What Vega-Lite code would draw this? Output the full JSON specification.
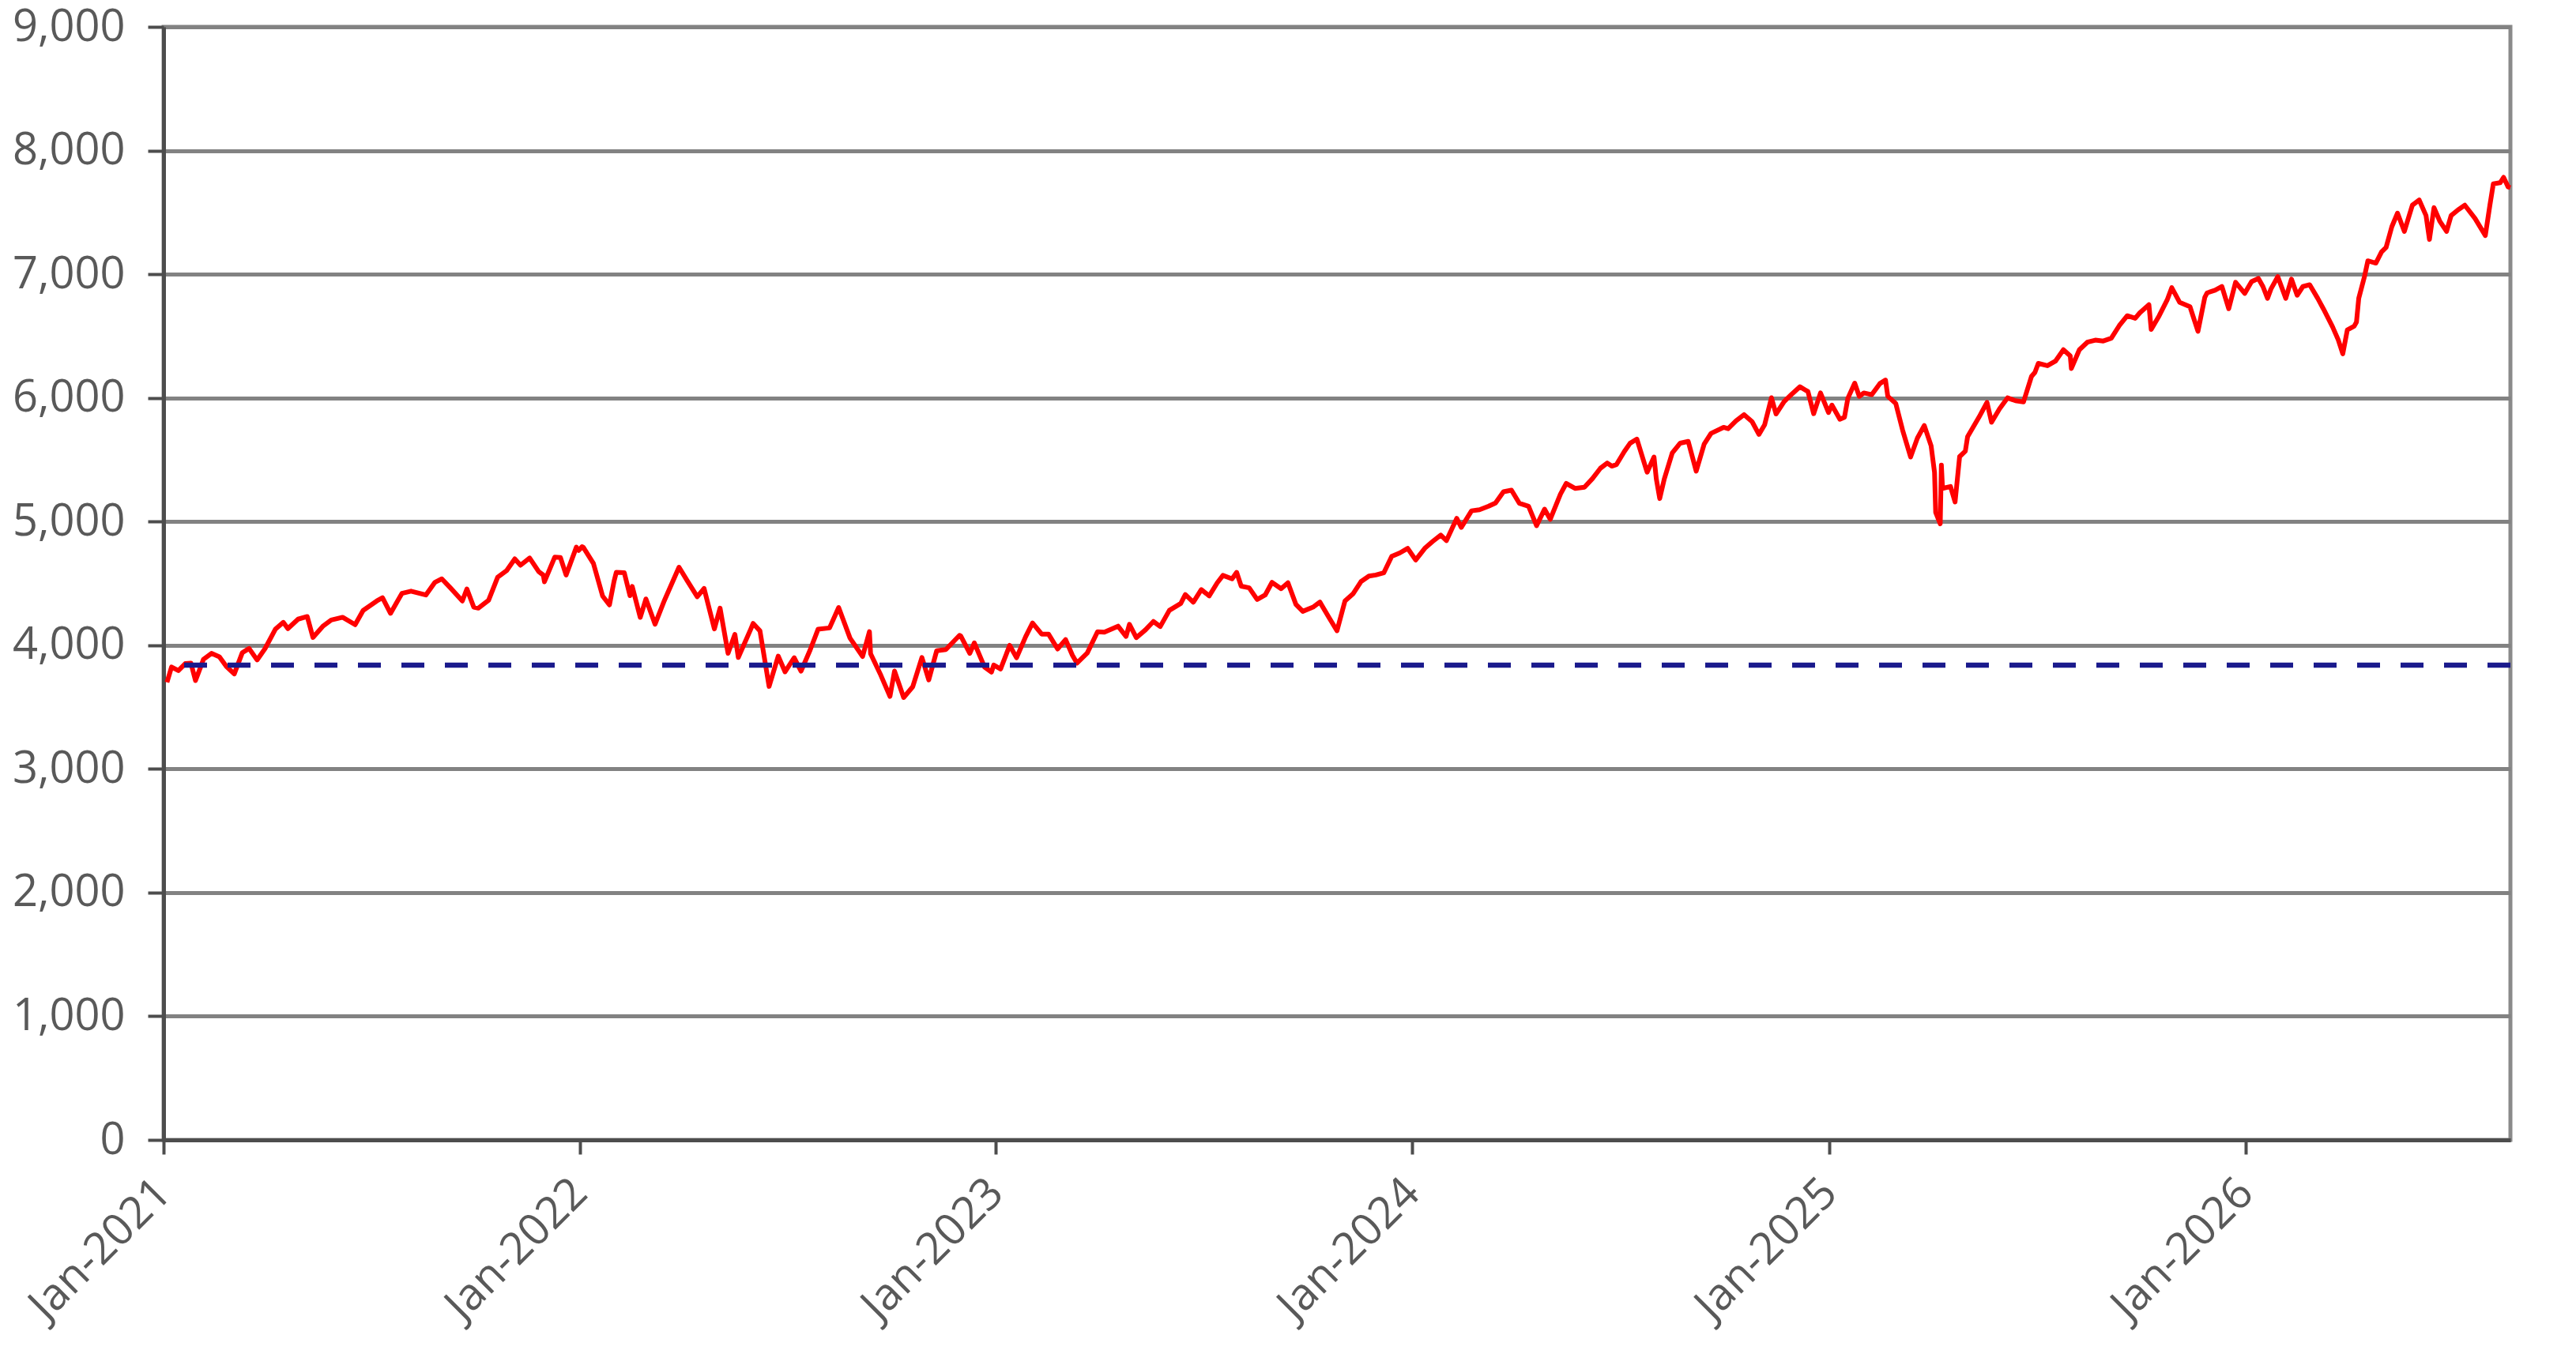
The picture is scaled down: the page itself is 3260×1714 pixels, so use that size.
{
  "$schema": "https://vega.github.io/schema/vega-lite/v6.json",
  "width": 2970,
  "height": 1409,
  "autosize": "none",
  "padding": {"left": 207, "top": 34, "right": 83, "bottom": 271},
  "background": "#ffffff",
  "config": {
    "view": {"stroke": "#8a8a8a", "strokeWidth": 5},
    "axis": {
      "labelFont": "Open Sans",
      "labelFontSize": 56,
      "labelColor": "#595959",
      "labelLimit": 0,
      "domainColor": "#4d4d4d",
      "domainWidth": 5,
      "tickColor": "#4d4d4d",
      "tickWidth": 4,
      "gridColor": "#828282",
      "gridWidth": 5
    }
  },
  "datasets": {
    "index": [
      {"date": "2021-01-04", "value": 3700}, {"date": "2021-01-08", "value": 3824}, {"date": "2021-01-14", "value": 3795},
      {"date": "2021-01-20", "value": 3851}, {"date": "2021-01-25", "value": 3855}, {"date": "2021-01-29", "value": 3714},
      {"date": "2021-02-05", "value": 3886}, {"date": "2021-02-12", "value": 3934}, {"date": "2021-02-19", "value": 3906},
      {"date": "2021-02-25", "value": 3829}, {"date": "2021-03-04", "value": 3768}, {"date": "2021-03-11", "value": 3939},
      {"date": "2021-03-17", "value": 3974}, {"date": "2021-03-24", "value": 3881}, {"date": "2021-03-31", "value": 3973},
      {"date": "2021-04-09", "value": 4129}, {"date": "2021-04-16", "value": 4185}, {"date": "2021-04-20", "value": 4134},
      {"date": "2021-04-29", "value": 4211}, {"date": "2021-05-07", "value": 4232}, {"date": "2021-05-12", "value": 4063},
      {"date": "2021-05-21", "value": 4156}, {"date": "2021-05-28", "value": 4204}, {"date": "2021-06-07", "value": 4226},
      {"date": "2021-06-18", "value": 4166}, {"date": "2021-06-25", "value": 4281}, {"date": "2021-07-07", "value": 4358},
      {"date": "2021-07-12", "value": 4384}, {"date": "2021-07-19", "value": 4258}, {"date": "2021-07-29", "value": 4419},
      {"date": "2021-08-06", "value": 4437}, {"date": "2021-08-19", "value": 4406}, {"date": "2021-08-27", "value": 4509},
      {"date": "2021-09-02", "value": 4537}, {"date": "2021-09-10", "value": 4459}, {"date": "2021-09-20", "value": 4358},
      {"date": "2021-09-24", "value": 4455}, {"date": "2021-09-30", "value": 4308}, {"date": "2021-10-04", "value": 4300},
      {"date": "2021-10-13", "value": 4363}, {"date": "2021-10-21", "value": 4550}, {"date": "2021-10-29", "value": 4605},
      {"date": "2021-11-05", "value": 4698}, {"date": "2021-11-10", "value": 4647}, {"date": "2021-11-18", "value": 4705},
      {"date": "2021-11-26", "value": 4595}, {"date": "2021-11-30", "value": 4567}, {"date": "2021-12-01", "value": 4513},
      {"date": "2021-12-10", "value": 4712}, {"date": "2021-12-15", "value": 4709}, {"date": "2021-12-20", "value": 4568},
      {"date": "2021-12-29", "value": 4793}, {"date": "2021-12-31", "value": 4766},
      {"date": "2022-01-03", "value": 4797}, {"date": "2022-01-04", "value": 4793}, {"date": "2022-01-13", "value": 4660},
      {"date": "2022-01-21", "value": 4398}, {"date": "2022-01-27", "value": 4326}, {"date": "2022-01-31", "value": 4516},
      {"date": "2022-02-02", "value": 4589}, {"date": "2022-02-09", "value": 4587}, {"date": "2022-02-14", "value": 4401},
      {"date": "2022-02-16", "value": 4475}, {"date": "2022-02-23", "value": 4225}, {"date": "2022-02-28", "value": 4374},
      {"date": "2022-03-08", "value": 4170}, {"date": "2022-03-16", "value": 4358}, {"date": "2022-03-29", "value": 4631},
      {"date": "2022-04-05", "value": 4525}, {"date": "2022-04-14", "value": 4392}, {"date": "2022-04-20", "value": 4459},
      {"date": "2022-04-29", "value": 4132}, {"date": "2022-05-04", "value": 4300}, {"date": "2022-05-11", "value": 3935},
      {"date": "2022-05-17", "value": 4088}, {"date": "2022-05-20", "value": 3901}, {"date": "2022-05-31", "value": 4132},
      {"date": "2022-06-02", "value": 4176}, {"date": "2022-06-08", "value": 4116}, {"date": "2022-06-16", "value": 3667},
      {"date": "2022-06-24", "value": 3912}, {"date": "2022-06-30", "value": 3785}, {"date": "2022-07-08", "value": 3899},
      {"date": "2022-07-14", "value": 3790}, {"date": "2022-07-22", "value": 3962}, {"date": "2022-07-29", "value": 4130},
      {"date": "2022-08-08", "value": 4140}, {"date": "2022-08-16", "value": 4305}, {"date": "2022-08-26", "value": 4057},
      {"date": "2022-09-06", "value": 3909}, {"date": "2022-09-12", "value": 4110}, {"date": "2022-09-13", "value": 3932},
      {"date": "2022-09-22", "value": 3757}, {"date": "2022-09-30", "value": 3586}, {"date": "2022-10-04", "value": 3791},
      {"date": "2022-10-12", "value": 3577}, {"date": "2022-10-20", "value": 3665}, {"date": "2022-10-28", "value": 3901},
      {"date": "2022-11-03", "value": 3720}, {"date": "2022-11-10", "value": 3956}, {"date": "2022-11-18", "value": 3965},
      {"date": "2022-11-30", "value": 4080}, {"date": "2022-12-01", "value": 4076}, {"date": "2022-12-09", "value": 3934},
      {"date": "2022-12-13", "value": 4019}, {"date": "2022-12-22", "value": 3822}, {"date": "2022-12-28", "value": 3783},
      {"date": "2022-12-30", "value": 3840},
      {"date": "2023-01-05", "value": 3808}, {"date": "2023-01-13", "value": 3999}, {"date": "2023-01-19", "value": 3899},
      {"date": "2023-01-27", "value": 4070}, {"date": "2023-02-02", "value": 4180}, {"date": "2023-02-10", "value": 4090},
      {"date": "2023-02-16", "value": 4090}, {"date": "2023-02-24", "value": 3970}, {"date": "2023-03-03", "value": 4046},
      {"date": "2023-03-09", "value": 3919}, {"date": "2023-03-13", "value": 3855}, {"date": "2023-03-22", "value": 3937},
      {"date": "2023-03-31", "value": 4109}, {"date": "2023-04-06", "value": 4105}, {"date": "2023-04-18", "value": 4154},
      {"date": "2023-04-25", "value": 4071}, {"date": "2023-04-28", "value": 4169}, {"date": "2023-05-04", "value": 4061},
      {"date": "2023-05-12", "value": 4124}, {"date": "2023-05-19", "value": 4192}, {"date": "2023-05-25", "value": 4151},
      {"date": "2023-06-02", "value": 4282}, {"date": "2023-06-12", "value": 4338}, {"date": "2023-06-16", "value": 4410},
      {"date": "2023-06-23", "value": 4348}, {"date": "2023-06-30", "value": 4450}, {"date": "2023-07-07", "value": 4399},
      {"date": "2023-07-14", "value": 4505}, {"date": "2023-07-19", "value": 4565}, {"date": "2023-07-27", "value": 4537},
      {"date": "2023-07-31", "value": 4589}, {"date": "2023-08-04", "value": 4478}, {"date": "2023-08-11", "value": 4464},
      {"date": "2023-08-18", "value": 4370}, {"date": "2023-08-25", "value": 4406}, {"date": "2023-08-31", "value": 4508},
      {"date": "2023-09-08", "value": 4457}, {"date": "2023-09-14", "value": 4505}, {"date": "2023-09-21", "value": 4330},
      {"date": "2023-09-27", "value": 4274}, {"date": "2023-10-06", "value": 4308}, {"date": "2023-10-12", "value": 4349},
      {"date": "2023-10-20", "value": 4224}, {"date": "2023-10-27", "value": 4117}, {"date": "2023-11-03", "value": 4358},
      {"date": "2023-11-10", "value": 4415}, {"date": "2023-11-17", "value": 4514}, {"date": "2023-11-24", "value": 4559},
      {"date": "2023-11-30", "value": 4568}, {"date": "2023-12-07", "value": 4585}, {"date": "2023-12-14", "value": 4719},
      {"date": "2023-12-21", "value": 4746}, {"date": "2023-12-28", "value": 4783}, {"date": "2023-12-29", "value": 4770},
      {"date": "2024-01-04", "value": 4689}, {"date": "2024-01-12", "value": 4784}, {"date": "2024-01-19", "value": 4840},
      {"date": "2024-01-26", "value": 4891}, {"date": "2024-01-31", "value": 4846}, {"date": "2024-02-09", "value": 5026},
      {"date": "2024-02-13", "value": 4953}, {"date": "2024-02-22", "value": 5087}, {"date": "2024-02-29", "value": 5096},
      {"date": "2024-03-08", "value": 5124}, {"date": "2024-03-14", "value": 5150}, {"date": "2024-03-21", "value": 5241},
      {"date": "2024-03-28", "value": 5254}, {"date": "2024-04-04", "value": 5147}, {"date": "2024-04-12", "value": 5123},
      {"date": "2024-04-19", "value": 4967}, {"date": "2024-04-26", "value": 5100}, {"date": "2024-05-01", "value": 5018},
      {"date": "2024-05-10", "value": 5223}, {"date": "2024-05-15", "value": 5308}, {"date": "2024-05-23", "value": 5268},
      {"date": "2024-05-31", "value": 5278}, {"date": "2024-06-07", "value": 5347}, {"date": "2024-06-14", "value": 5431},
      {"date": "2024-06-20", "value": 5473}, {"date": "2024-06-24", "value": 5448}, {"date": "2024-06-28", "value": 5460},
      {"date": "2024-07-05", "value": 5567}, {"date": "2024-07-10", "value": 5633}, {"date": "2024-07-16", "value": 5667},
      {"date": "2024-07-24", "value": 5427}, {"date": "2024-07-25", "value": 5399}, {"date": "2024-07-31", "value": 5522},
      {"date": "2024-08-02", "value": 5346}, {"date": "2024-08-05", "value": 5186}, {"date": "2024-08-09", "value": 5344},
      {"date": "2024-08-16", "value": 5554}, {"date": "2024-08-23", "value": 5634}, {"date": "2024-08-30", "value": 5648},
      {"date": "2024-09-06", "value": 5408}, {"date": "2024-09-13", "value": 5626}, {"date": "2024-09-19", "value": 5713},
      {"date": "2024-09-30", "value": 5762}, {"date": "2024-10-04", "value": 5751}, {"date": "2024-10-11", "value": 5815},
      {"date": "2024-10-18", "value": 5864}, {"date": "2024-10-25", "value": 5808}, {"date": "2024-10-31", "value": 5705},
      {"date": "2024-11-05", "value": 5782}, {"date": "2024-11-11", "value": 6001}, {"date": "2024-11-15", "value": 5870},
      {"date": "2024-11-22", "value": 5969}, {"date": "2024-11-29", "value": 6032}, {"date": "2024-12-06", "value": 6090},
      {"date": "2024-12-13", "value": 6051}, {"date": "2024-12-18", "value": 5872}, {"date": "2024-12-24", "value": 6040},
      {"date": "2024-12-31", "value": 5882},
      {"date": "2025-01-03", "value": 5942}, {"date": "2025-01-10", "value": 5827}, {"date": "2025-01-14", "value": 5843},
      {"date": "2025-01-17", "value": 5997}, {"date": "2025-01-23", "value": 6119}, {"date": "2025-01-27", "value": 6012},
      {"date": "2025-01-31", "value": 6040}, {"date": "2025-02-07", "value": 6026}, {"date": "2025-02-14", "value": 6115},
      {"date": "2025-02-19", "value": 6144}, {"date": "2025-02-21", "value": 6013}, {"date": "2025-02-28", "value": 5955},
      {"date": "2025-03-06", "value": 5739}, {"date": "2025-03-10", "value": 5615}, {"date": "2025-03-13", "value": 5522},
      {"date": "2025-03-19", "value": 5675}, {"date": "2025-03-25", "value": 5777}, {"date": "2025-03-31", "value": 5612},
      {"date": "2025-04-03", "value": 5397}, {"date": "2025-04-04", "value": 5074}, {"date": "2025-04-08", "value": 4982},
      {"date": "2025-04-09", "value": 5457}, {"date": "2025-04-10", "value": 5268}, {"date": "2025-04-17", "value": 5283},
      {"date": "2025-04-21", "value": 5158}, {"date": "2025-04-25", "value": 5525}, {"date": "2025-04-30", "value": 5569},
      {"date": "2025-05-02", "value": 5687}, {"date": "2025-05-12", "value": 5844}, {"date": "2025-05-19", "value": 5964},
      {"date": "2025-05-23", "value": 5803}, {"date": "2025-05-30", "value": 5912}, {"date": "2025-06-06", "value": 6000},
      {"date": "2025-06-13", "value": 5977}, {"date": "2025-06-20", "value": 5967}, {"date": "2025-06-27", "value": 6173},
      {"date": "2025-06-30", "value": 6205}, {"date": "2025-07-03", "value": 6279}, {"date": "2025-07-11", "value": 6260},
      {"date": "2025-07-18", "value": 6297}, {"date": "2025-07-25", "value": 6389}, {"date": "2025-07-31", "value": 6339},
      {"date": "2025-08-01", "value": 6238}, {"date": "2025-08-08", "value": 6389}, {"date": "2025-08-15", "value": 6450},
      {"date": "2025-08-22", "value": 6467}, {"date": "2025-08-29", "value": 6460}, {"date": "2025-09-05", "value": 6482},
      {"date": "2025-09-12", "value": 6584}, {"date": "2025-09-19", "value": 6664}, {"date": "2025-09-26", "value": 6644},
      {"date": "2025-09-30", "value": 6688}, {"date": "2025-10-08", "value": 6753}, {"date": "2025-10-10", "value": 6553},
      {"date": "2025-10-17", "value": 6664}, {"date": "2025-10-24", "value": 6792}, {"date": "2025-10-28", "value": 6891},
      {"date": "2025-10-31", "value": 6840}, {"date": "2025-11-04", "value": 6772}, {"date": "2025-11-13", "value": 6737},
      {"date": "2025-11-20", "value": 6538}, {"date": "2025-11-26", "value": 6813}, {"date": "2025-11-28", "value": 6849},
      {"date": "2025-12-05", "value": 6870}, {"date": "2025-12-11", "value": 6901}, {"date": "2025-12-17", "value": 6721},
      {"date": "2025-12-23", "value": 6935}, {"date": "2025-12-31", "value": 6845},
      {"date": "2026-01-06", "value": 6940}, {"date": "2026-01-12", "value": 6966}, {"date": "2026-01-16", "value": 6900},
      {"date": "2026-01-20", "value": 6805}, {"date": "2026-01-23", "value": 6880}, {"date": "2026-01-29", "value": 6980},
      {"date": "2026-02-05", "value": 6805}, {"date": "2026-02-10", "value": 6960}, {"date": "2026-02-15", "value": 6830},
      {"date": "2026-02-20", "value": 6900}, {"date": "2026-02-26", "value": 6915}, {"date": "2026-03-05", "value": 6805},
      {"date": "2026-03-10", "value": 6720}, {"date": "2026-03-18", "value": 6575}, {"date": "2026-03-23", "value": 6470},
      {"date": "2026-03-27", "value": 6356}, {"date": "2026-03-31", "value": 6550}, {"date": "2026-04-06", "value": 6580},
      {"date": "2026-04-08", "value": 6613}, {"date": "2026-04-10", "value": 6805}, {"date": "2026-04-15", "value": 6980},
      {"date": "2026-04-18", "value": 7108}, {"date": "2026-04-25", "value": 7090}, {"date": "2026-04-30", "value": 7180},
      {"date": "2026-05-04", "value": 7217}, {"date": "2026-05-09", "value": 7384}, {"date": "2026-05-14", "value": 7494},
      {"date": "2026-05-20", "value": 7346}, {"date": "2026-05-27", "value": 7558}, {"date": "2026-06-02", "value": 7600},
      {"date": "2026-06-08", "value": 7474}, {"date": "2026-06-11", "value": 7281}, {"date": "2026-06-15", "value": 7538},
      {"date": "2026-06-20", "value": 7430}, {"date": "2026-06-26", "value": 7346}, {"date": "2026-06-30", "value": 7474},
      {"date": "2026-07-06", "value": 7520}, {"date": "2026-07-12", "value": 7558}, {"date": "2026-07-21", "value": 7450},
      {"date": "2026-07-30", "value": 7313}, {"date": "2026-08-03", "value": 7558}, {"date": "2026-08-06", "value": 7731},
      {"date": "2026-08-12", "value": 7740}, {"date": "2026-08-15", "value": 7783}, {"date": "2026-08-19", "value": 7706},
      {"date": "2026-08-21", "value": 7700}
    ]
  },
  "layer": [
    {
      "data": {"name": "index"},
      "mark": {"type": "line", "color": "#ff0000", "strokeWidth": 6, "strokeJoin": "round"},
      "encoding": {
        "x": {
          "field": "date",
          "type": "temporal",
          "title": null,
          "scale": {
            "type": "utc",
            "domain": [
              {"year": 2021, "month": 1, "date": 1, "utc": true},
              {"year": 2026, "month": 8, "date": 21, "utc": true}
            ]
          },
          "axis": {
            "values": [
              {"year": 2021, "month": 1, "date": 1, "utc": true},
              {"year": 2022, "month": 1, "date": 1, "utc": true},
              {"year": 2023, "month": 1, "date": 1, "utc": true},
              {"year": 2024, "month": 1, "date": 1, "utc": true},
              {"year": 2025, "month": 1, "date": 1, "utc": true},
              {"year": 2026, "month": 1, "date": 1, "utc": true}
            ],
            "labelExpr": "utcFormat(datum.value, '%b-%Y')",
            "labelAngle": -45,
            "labelAlign": "right",
            "labelBaseline": "middle",
            "labelPadding": 40,
            "tickSize": 18,
            "grid": false,
            "labelOverlap": false
          }
        },
        "y": {
          "field": "value",
          "type": "quantitative",
          "title": null,
          "scale": {"domain": [0, 9000], "nice": false, "zero": true},
          "axis": {
            "values": [0, 1000, 2000, 3000, 4000, 5000, 6000, 7000, 8000, 9000],
            "labelExpr": "format(datum.value, ',.0f')",
            "tickSize": 20,
            "labelPadding": 29,
            "grid": true,
            "labelOverlap": false
          }
        }
      }
    },
    {
      "data": {"values": [{}]},
      "mark": {"type": "rule", "color": "#1a1a8c", "strokeWidth": 6.5, "strokeDash": [29, 26]},
      "encoding": {
        "y": {"datum": 3839.5, "type": "quantitative", "title": null}
      }
    }
  ]
}
